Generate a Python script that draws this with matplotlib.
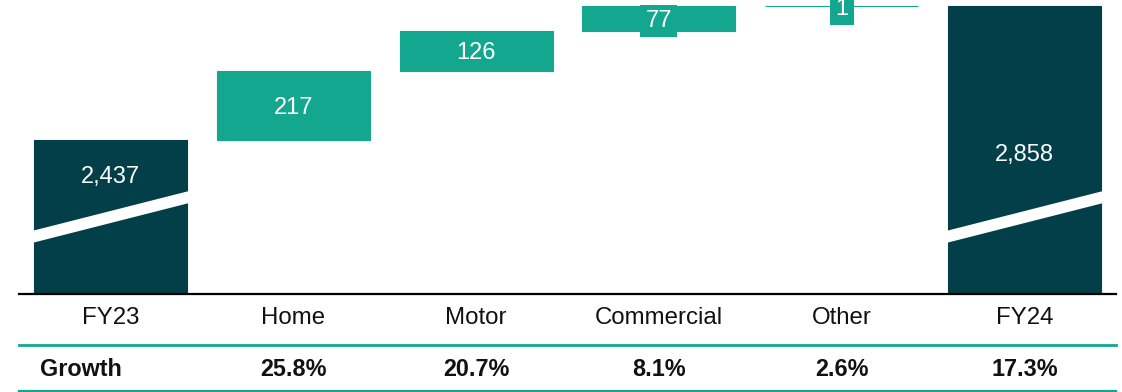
import matplotlib
matplotlib.use("Agg")
import matplotlib.pyplot as plt
from matplotlib.patches import Polygon
from matplotlib.lines import Line2D
import matplotlib.transforms as mtransforms

plt.rcParams['font.family'] = ['Liberation Sans', 'DejaVu Sans']

# ---- data ----
categories = ["FY23", "Home", "Motor", "Commercial", "Other", "FY24"]
values = [2437, 217, 126, 77, 1, 2858]
is_total = [True, False, False, False, False, True]
value_labels = ["2,437", "217", "126", "77", "1", "2,858"]
growth_labels = ["", "25.8%", "20.7%", "8.1%", "2.6%", "17.3%"]
growth_title = "Growth"

DARK = "#023F48"
TEAL = "#14A78F"

W, H = 1122, 392
AX_L, AX_R = 19, 1116
fig = plt.figure(figsize=(W / 100, H / 100), dpi=100)
ax = fig.add_axes([AX_L / W, (H - 294) / H, (AX_R - AX_L) / W, 294 / H])

ymin, ymax = 1953, 2877
ax.set_xlim(-0.5, len(categories) - 0.5)
ax.set_ylim(ymin, ymax)
ppu = (AX_R - AX_L) / len(categories)

bar_w = 0.837
running = 0
bottoms, heights = [], []
for v, t in zip(values, is_total):
    if t:
        bottoms.append(0)
        heights.append(v)
        running = v
    else:
        bottoms.append(running)
        heights.append(v)
        running += v

xs = list(range(len(categories)))
colors = [DARK if t else TEAL for t in is_total]
ax.bar(xs, heights, bottom=bottoms, width=bar_w, color=colors,
       edgecolor=colors, linewidth=0.8, zorder=2)

# broken-axis stripe on total bars (x data, y axes fraction)
trans = mtransforms.blended_transform_factory(ax.transData, ax.transAxes)
yl, yr, half = 0.1956, 0.328, 0.0205
slope = (yr - yl) / bar_w
for x, t in zip(xs, is_total):
    if not t:
        continue
    x0, x1 = x - bar_w / 2 - 0.03, x + bar_w / 2 + 0.03
    y0 = yl - slope * 0.03
    y1 = yr + slope * 0.03
    poly = Polygon([(x0, y0 - half), (x1, y1 - half), (x1, y1 + half), (x0, y0 + half)],
                   closed=True, facecolor="white", edgecolor="none",
                   transform=trans, zorder=3)
    ax.add_patch(poly)

# value labels
total_label_y = {0: 0.407, 5: 0.482}
for i, (x, t) in enumerate(zip(xs, is_total)):
    if t:
        ax.text(x, total_label_y[i], value_labels[i], transform=trans,
                ha="center", va="center_baseline", color="white", fontsize=17, zorder=4)
    else:
        yc = bottoms[i] + heights[i] / 2
        ax.text(x, yc, value_labels[i], ha="center", va="center_baseline",
                color="white", fontsize=17, zorder=4, clip_on=False,
                bbox=dict(boxstyle="square,pad=0.22", facecolor=TEAL,
                          edgecolor="none"))

# axes styling
for s in ["top", "left", "right"]:
    ax.spines[s].set_visible(False)
ax.spines["bottom"].set_linewidth(1.6)
ax.spines["bottom"].set_color("black")
ax.spines["bottom"].set_zorder(5)
ax.set_xticks([])
ax.set_yticks([])
ax.patch.set_alpha(0)

# table beneath
def fy(px):
    return (294 - px) / 294.0

for x, c in zip(xs, categories):
    ax.text(x, fy(318), c, transform=trans, ha="center", va="center",
            fontsize=17.3, color="#111111")
ax.text(-0.5 + (40 - AX_L) / ppu, fy(370), growth_title, transform=trans, ha="left",
        va="center", fontsize=16.8, fontweight="bold", color="#111111")
for x, g in zip(xs, growth_labels):
    if g:
        ax.text(x, fy(370), g, transform=trans, ha="center", va="center",
                fontsize=16.8, fontweight="bold", color="#111111")

for py, lw in [(344.5, 2.0), (391, 1.6)]:
    ax.add_line(Line2D([0, 1], [fy(py), fy(py)], transform=ax.transAxes,
                       color=TEAL, linewidth=lw, clip_on=False))

fig.savefig("out.png", dpi=100)
